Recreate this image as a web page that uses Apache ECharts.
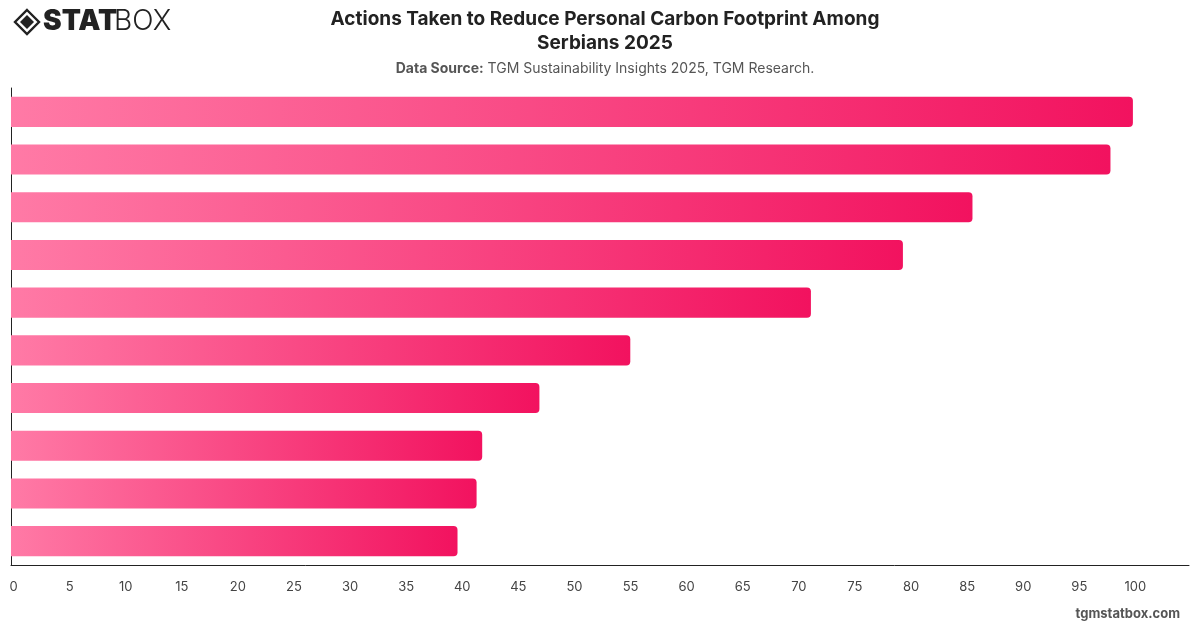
<!DOCTYPE html>
<html>
<head>
<meta charset="utf-8">
<script src="https://cdn.jsdelivr.net/npm/echarts@6/dist/echarts.min.js"></script>
<style>html,body{margin:0;padding:0;background:#fff}#c{width:1200px;height:628px}</style>
</head>
<body>
<div id="c"></div>
<script>
const categories = ["Action 1","Action 2","Action 3","Action 4","Action 5","Action 6","Action 7","Action 8","Action 9","Action 10"];
const values = [100, 98, 85.7, 79.5, 71.3, 55.2, 47.1, 42.0, 41.5, 39.8];
const tickLabels = [0,5,10,15,20,25,30,35,40,45,50,55,60,65,70,75,80,85,90,95,100];

const chart = echarts.init(document.getElementById('c'));
const font = 'Inter, "Noto Sans", sans-serif';
chart.setOption({
  backgroundColor: '#fff',
  animation: false,
  title: [{
    text: 'Actions Taken to Reduce Personal Carbon Footprint Among\nSerbians 2025',
    left: 600, textAlign: 'center', top: 2,
    textStyle: {fontFamily: font, fontSize: 19, fontWeight: 'bold', color: '#222', lineHeight: 24}
  }, {
    text: '{b|Data Source:} {n|TGM Sustainability Insights 2025, TGM Research.}',
    left: 600, textAlign: 'center', top: 57,
    textStyle: {fontFamily: font, fontSize: 14, fontWeight: 'normal', color: '#555',
      rich: {
        b: {fontFamily: font, fontSize: 14, fontWeight: 'bold', color: '#555'},
        n: {fontFamily: font, fontSize: 14, fontWeight: 'normal', color: '#555'}
      }}
  }],
  grid: {left: 11, right: 11, top: 88, bottom: 63, containLabel: false},
  xAxis: {
    type: 'value', min: 0, max: 105, interval: 5,
    axisLine: {show: true, lineStyle: {color: '#222', width: 1}},
    axisTick: {show: false},
    splitLine: {show: false},
    axisLabel: {
      fontFamily: font, fontSize: 13, color: '#444', margin: 16, padding: [0, 0, 0, 5],
      formatter: v => tickLabels.indexOf(v) >= 0 ? String(v) : ''
    }
  },
  yAxis: {
    type: 'category', data: categories, inverse: true,
    axisLine: {show: true, lineStyle: {color: '#222', width: 1}},
    axisTick: {show: false},
    axisLabel: {show: false},
    splitLine: {show: false}
  },
  series: [{
    type: 'bar', data: values, barCategoryGap: '37%',
    itemStyle: {
      borderRadius: [0, 4, 4, 0],
      color: new echarts.graphic.LinearGradient(0, 0, 1, 0, [
        {offset: 0, color: '#ff7aa6'},
        {offset: 1, color: '#f2125f'}
      ])
    }
  }],
  graphic: [
    {type: 'polygon', shape: {points: [[27,10],[39,22],[27,34],[15,22]]}, style: {fill: 'none', stroke: '#222', lineWidth: 2.4}},
    {type: 'polygon', shape: {points: [[27,15],[34,22],[27,29],[20,22]]}, style: {fill: '#222'}},
    {type: 'text', left: 43, top: 8, style: {text: 'STAT', font: '900 28px ' + font, fill: '#222'}},
    {type: 'text', left: 114, top: 8, style: {text: 'BOX', font: '300 28px ' + font, fill: '#222'}},
    {type: 'text', right: 20, top: 608, style: {text: 'tgmstatbox.com', font: 'bold 13px ' + font, fill: '#555'}}
  ]
});
</script>
</body>
</html>
